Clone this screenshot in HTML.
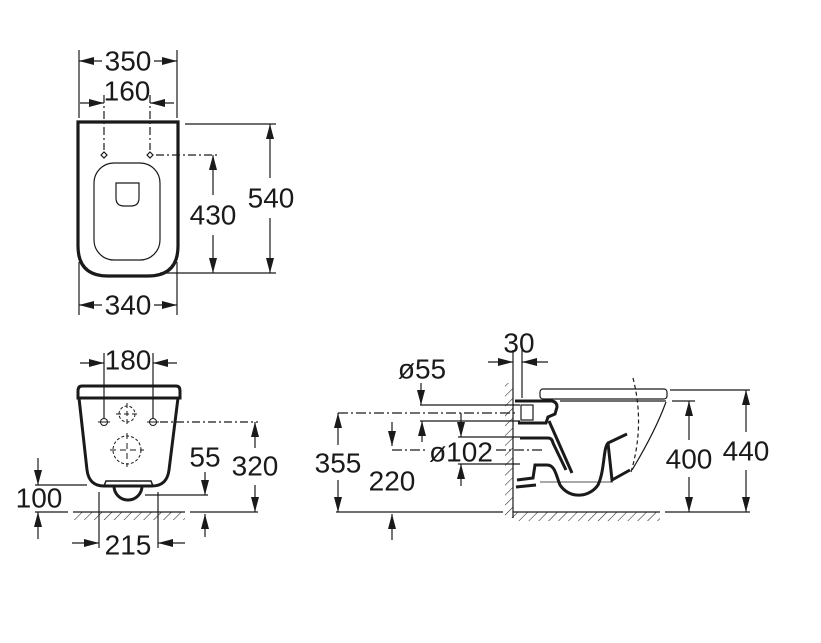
<!DOCTYPE html>
<html><head><style>
html,body{margin:0;padding:0;background:#fff;}
svg{display:block;}
text{font-family:"Liberation Sans",Arial,sans-serif;font-size:28px;fill:#1a1a1a;text-anchor:middle;dominant-baseline:central;}
</style></head><body>
<svg width="821" height="643" viewBox="0 0 821 643" xmlns="http://www.w3.org/2000/svg">
<defs>
<marker id="a" viewBox="0 0 15 8" refX="15" refY="4" markerWidth="15" markerHeight="8" markerUnits="userSpaceOnUse" orient="auto"><path d="M0 0 L15 4 L0 8 Z" fill="#1a1a1a"/></marker>
<pattern id="h" width="7" height="7" patternUnits="userSpaceOnUse" patternTransform="rotate(45)"><line x1="0" y1="0" x2="0" y2="7" stroke="#222" stroke-width="1.1"/></pattern>
</defs>
<g stroke="#1a1a1a" stroke-width="1.2" fill="none">
<!-- TOP VIEW -->
<path d="M78 122 L178 122 L178 246 Q178 276 148 276 L108 276 Q78 276 78 246 Z" stroke-width="3.2"/>
<rect x="94" y="163" width="66" height="97" rx="20" stroke-width="1.2"/>
<path d="M116 183 L139 183 L139 198 Q139 206 131 206 L124 206 Q116 206 116 198 Z"/>
<path d="M101 155 L104 152 L107 155 L104 158 Z M147 155 L150 152 L153 155 L150 158 Z"/>
<line x1="79" y1="50" x2="79" y2="118"/><line x1="177" y1="50" x2="177" y2="118"/>
<line x1="102" y1="61" x2="79" y2="61" marker-end="url(#a)"/><line x1="154" y1="61" x2="177" y2="61" marker-end="url(#a)"/>
<line x1="104" y1="95" x2="104" y2="150" stroke-dasharray="8 3 2 3"/><line x1="150" y1="95" x2="150" y2="150" stroke-dasharray="8 3 2 3"/>
<line x1="80" y1="103" x2="104" y2="103" marker-end="url(#a)"/><line x1="174" y1="103" x2="150" y2="103" marker-end="url(#a)"/>
<line x1="185" y1="124" x2="276" y2="124"/><line x1="160" y1="273" x2="276" y2="273"/>
<line x1="270" y1="178" x2="270" y2="124" marker-end="url(#a)"/><line x1="270" y1="218" x2="270" y2="273" marker-end="url(#a)"/>
<line x1="156" y1="155" x2="218" y2="155" stroke-dasharray="8 3 2 3"/>
<line x1="213" y1="195" x2="213" y2="155" marker-end="url(#a)"/><line x1="213" y1="235" x2="213" y2="273" marker-end="url(#a)"/>
<line x1="79" y1="262" x2="79" y2="315"/><line x1="177" y1="262" x2="177" y2="315"/>
<line x1="102" y1="305" x2="79" y2="305" marker-end="url(#a)"/><line x1="154" y1="305" x2="177" y2="305" marker-end="url(#a)"/>

<!-- FRONT VIEW -->
<path d="M82 386 L176 386 Q180 386 180 391 L180 398 L78 398 L78 391 Q78 386 82 386 Z" stroke-width="3"/>
<line x1="80" y1="398" x2="178" y2="398"/>
<path d="M79 398 L87 470 Q89 486 104 486 L152 486 Q167 486 169 470 L178 398" stroke-width="3"/>
<path d="M104 486 L106 481 L151 481 L153 486" stroke-width="1.5"/>
<path d="M114 486 A14 14 0 0 0 142 486" stroke-width="3"/>
<g stroke-width="1"><circle cx="104" cy="422" r="3.5"/><circle cx="153" cy="422" r="3.5"/>
<line x1="98" y1="422" x2="110" y2="422"/><line x1="147" y1="422" x2="159" y2="422"/>
<circle cx="127" cy="414" r="8" stroke-dasharray="3 2"/><line x1="116" y1="414" x2="138" y2="414" stroke-dasharray="5 3"/><line x1="127" y1="403" x2="127" y2="425" stroke-dasharray="5 3"/>
<circle cx="127" cy="450" r="14" stroke-dasharray="3 2"/><line x1="110" y1="450" x2="144" y2="450" stroke-dasharray="6 4"/><line x1="127" y1="433" x2="127" y2="467" stroke-dasharray="6 4"/></g>
<line x1="104" y1="353" x2="104" y2="418"/><line x1="153" y1="353" x2="153" y2="418"/>
<line x1="80" y1="363" x2="104" y2="363" marker-end="url(#a)"/><line x1="177" y1="363" x2="153" y2="363" marker-end="url(#a)"/>
<line x1="160" y1="422" x2="258" y2="422" stroke-dasharray="8 3 2 3"/>
<line x1="255" y1="448" x2="255" y2="422" marker-end="url(#a)"/><line x1="255" y1="485" x2="255" y2="512" marker-end="url(#a)"/>
<line x1="145" y1="495" x2="208" y2="495"/>
<line x1="205" y1="472" x2="205" y2="495" marker-end="url(#a)"/><line x1="205" y1="537" x2="205" y2="514" marker-end="url(#a)"/>
<rect x="73" y="512" width="112" height="8" fill="url(#h)" stroke="none"/>
<line x1="73" y1="512" x2="185" y2="512"/>
<line x1="35" y1="512" x2="68" y2="512"/><line x1="190" y1="512" x2="258" y2="512"/>
<line x1="35" y1="485" x2="87" y2="485"/>
<line x1="38" y1="458" x2="38" y2="485" marker-end="url(#a)"/><line x1="38" y1="539" x2="38" y2="512" marker-end="url(#a)"/>
<line x1="99" y1="492" x2="99" y2="548"/><line x1="158" y1="492" x2="158" y2="548"/>
<line x1="72" y1="543" x2="99" y2="543" marker-end="url(#a)"/><line x1="185" y1="543" x2="158" y2="543" marker-end="url(#a)"/>

<!-- SIDE VIEW -->
<rect x="505" y="383" width="8" height="135" fill="url(#h)" stroke="none"/>
<line x1="513" y1="383" x2="513" y2="518"/>
<rect x="513" y="512" width="147" height="9" fill="url(#h)" stroke="none"/>
<line x1="513" y1="512" x2="660" y2="512"/>
<line x1="522" y1="350" x2="522" y2="398"/><line x1="513" y1="350" x2="513" y2="383"/>
<line x1="488" y1="362" x2="513" y2="362" marker-end="url(#a)"/><line x1="548" y1="362" x2="522" y2="362" marker-end="url(#a)"/>
<rect x="540" y="389" width="127" height="10" rx="3"/>
<line x1="560" y1="401" x2="666" y2="401"/>
<path d="M666 402 Q655 432 632 470"/>
<path d="M633 378 Q645 425 631 472" stroke-dasharray="4 3"/>
<path d="M515 401 L552 401 Q557 402 557 407 L555 414 L548 417 L546 423 L518 423" stroke-width="3"/>
<rect x="521" y="405" width="12" height="15" stroke-width="1.2"/>
<path d="M549 421 L572 473" stroke-width="3"/>
<path d="M520 438 L548 438 Q552 438 553 443 L566 470" stroke-width="3"/>
<path d="M517 480 L533 478 L535 465 L547 465 C555 465 556 475 560 485 C570 500 590 497 598 485 C605 470 603 448 608 443 L627 434" stroke-width="3"/>
<path d="M608 443 L612 480 L630 470" stroke-width="3"/>
<path d="M516 487 L536 485" stroke-width="3"/>
<line x1="540" y1="482" x2="613" y2="482" stroke-width="0.8"/>
<line x1="420" y1="405" x2="520" y2="405"/><line x1="420" y1="421" x2="520" y2="421"/>
<line x1="338" y1="413" x2="515" y2="413" stroke-dasharray="10 3 2 3"/>
<line x1="421" y1="383" x2="421" y2="405" marker-end="url(#a)"/>
<line x1="422" y1="442" x2="422" y2="421" marker-end="url(#a)"/>
<line x1="461" y1="413" x2="461" y2="437" marker-end="url(#a)"/>
<line x1="458" y1="437" x2="520" y2="437"/><line x1="458" y1="464" x2="520" y2="464"/>
<line x1="461" y1="486" x2="461" y2="464" marker-end="url(#a)"/>
<line x1="392" y1="422" x2="392" y2="446" marker-end="url(#a)"/>
<line x1="392" y1="450" x2="426" y2="450" stroke-dasharray="10 3 2 3"/><line x1="496" y1="450" x2="545" y2="450" stroke-dasharray="10 3 2 3"/>
<line x1="392" y1="540" x2="392" y2="514" marker-end="url(#a)"/>
<line x1="338" y1="445" x2="338" y2="413" marker-end="url(#a)"/><line x1="338" y1="480" x2="338" y2="512" marker-end="url(#a)"/>
<line x1="336" y1="512" x2="503" y2="512"/>
<line x1="670" y1="390" x2="750" y2="390"/><line x1="672" y1="401" x2="695" y2="401"/><line x1="665" y1="512" x2="750" y2="512"/>
<line x1="689" y1="440" x2="689" y2="401" marker-end="url(#a)"/><line x1="689" y1="477" x2="689" y2="512" marker-end="url(#a)"/>
<line x1="746" y1="432" x2="746" y2="390" marker-end="url(#a)"/><line x1="746" y1="470" x2="746" y2="512" marker-end="url(#a)"/>
</g>
<g>
<text x="128" y="61">350</text>
<text x="127" y="91">160</text>
<text x="271" y="198">540</text>
<text x="213" y="215">430</text>
<text x="128" y="305">340</text>
<text x="128" y="360">180</text>
<text x="205" y="457">55</text>
<text x="255" y="466">320</text>
<text x="39" y="498">100</text>
<text x="128" y="545">215</text>
<text x="519" y="343">30</text>
<text x="422" y="369">ø55</text>
<text x="461" y="452">ø102</text>
<text x="338" y="463">355</text>
<text x="392" y="481">220</text>
<text x="689" y="459">400</text>
<text x="746" y="451">440</text>
</g>
</svg>
</body></html>
